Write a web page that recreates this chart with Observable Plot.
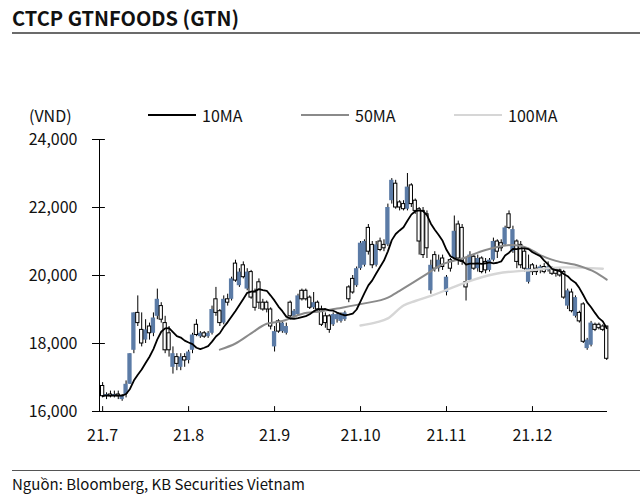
<!DOCTYPE html>
<html><head><meta charset="utf-8">
<script src="https://cdn.jsdelivr.net/npm/d3@7"></script>
<script src="https://cdn.jsdelivr.net/npm/@observablehq/plot@0.6"></script>
<style>
body{margin:0;background:#fff;}
#wrap{position:relative;width:640px;height:500px;overflow:hidden;background:#fff;font-family:"Noto Sans CJK KR","Noto Sans",sans-serif;color:#111;}
#title{position:absolute;left:12px;top:4px;font-size:20px;font-weight:700;line-height:28px;white-space:nowrap;}
#rule1{position:absolute;left:12px;right:0;top:32px;height:2px;background:#6b6b6b;}
#unit{position:absolute;left:29px;top:104px;font-size:16px;line-height:22px;z-index:2;}
#legend{position:absolute;left:148px;top:104px;display:flex;z-index:2;}
.item{width:153px;display:flex;align-items:center;font-size:16px;line-height:22px;}
.swatch{width:48px;height:2px;margin-right:6px;}
#chart{position:absolute;left:0;top:95px;z-index:1;}
#rule2{position:absolute;left:12px;right:0;top:470px;height:1px;background:#555;}
#source{position:absolute;left:12px;top:473px;font-size:15px;line-height:22px;white-space:nowrap;}
</style></head><body>
<div id="wrap">
  <div id="title">CTCP GTNFOODS (GTN)</div>
  <div id="rule1"></div>
  <div id="unit">(VND)</div>
  <div id="legend"></div>
  <div id="chart"></div>
  <div id="rule2"></div>
  <div id="source">Nguồn: Bloomberg, KB Securities Vietnam</div>
</div>
<script>
// ---- data ----
const monthLabels = ["21.7", "21.8", "21.9", "21.10", "21.11", "21.12"];
const monthStarts = [0, 22, 44, 66, 88, 110];
const yTicks = [16000, 18000, 20000, 22000, 24000];

const openP = [
  16750,16450,16500,16450,16500,16350,16500,16800,17800,18900,
  18400,18100,18500,18300,18800,19100,18600,18300,17300,17600,
  17300,17600,17500,17800,18550,18200,18300,18200,18300,19300,
  18950,18600,19300,19300,20350,19700,20300,19600,20100,19500,
  19800,19200,19200,19000,17900,18650,18350,18300,19200,18800,
  18850,19550,19550,19350,19050,19200,19000,18800,18800,18550,
  18700,18650,18700,19650,19900,19700,20200,20300,21400,20900,
  20300,21000,20900,20900,22200,22700,22150,22100,21950,22650,
  22200,21950,21900,21800,19550,20600,20200,20500,19500,20450,
  20500,21500,21400,19800,19850,20550,20200,20500,20400,20150,
  20450,21000,20950,20900,21800,20700,21000,20900,20700,19800,
  20300,20200,20150,20250,20150,20200,20150,20150,20100,19100,
  19500,18800,18900,19150,17850,17950,18550,18550,18500,18500
];
const highP = [
  16850,16550,16600,16600,16600,16500,16900,17700,18900,19400,
  18900,18700,18600,18900,19600,19200,18800,18500,17900,17700,
  17700,17700,17800,18300,18700,18350,18350,18350,19100,19650,
  19000,19400,19450,19950,20450,20200,20400,20200,20150,19600,
  19900,19300,19250,19050,18500,18700,18650,18600,19250,19000,
  19450,19600,19600,19400,19500,19250,19100,18900,18850,18900,
  18900,18900,18950,19700,20000,20250,21000,21050,21500,21000,
  21000,21100,21050,22100,22850,22800,22200,22200,23000,22700,
  22250,22000,22000,21900,20450,20700,20600,20600,20000,20500,
  21750,21600,21500,20500,20700,20600,20600,20550,20500,20500,
  21100,21050,21050,21450,21900,21450,21050,21000,20800,20600,
  20350,20300,20300,20350,20400,20250,20200,20200,20150,19600,
  19600,19400,18950,19200,18150,18650,18600,18600,18550,18500
];
const lowP = [
  16400,16350,16400,16400,16350,16300,16400,16800,17700,18500,
  17900,18000,18100,18200,18700,18600,17700,17600,17100,17200,
  17200,17300,17400,17700,18200,18150,18150,18150,18250,18800,
  18500,18550,19100,19250,19800,19650,19900,19550,19300,18950,
  19000,18950,18900,18400,17750,18300,18300,18250,18700,18750,
  18800,19250,19250,19000,19000,18950,18500,18450,18300,18500,
  18600,18600,18650,19200,19450,19650,20150,20250,20600,20200,
  20250,20700,20700,20850,22100,21950,21900,21900,21900,22000,
  21800,20600,20500,20500,19450,20100,20100,20150,19400,20100,
  20450,20300,20300,19250,19800,20150,20100,20050,20050,20100,
  20400,20500,20700,20850,21350,20650,20200,20200,20100,19750,
  20000,20000,20050,20050,20100,20000,19950,19950,19300,19000,
  18900,18750,18600,18000,17800,17900,18350,18400,18350,17500
];
const closeP = [
  16450,16500,16450,16500,16450,16450,16800,17700,18900,18600,
  18000,18400,18300,18750,19300,18700,17800,17800,17700,17400,
  17600,17500,17750,18250,18250,18300,18200,18300,19000,18900,
  18600,19300,19200,19900,19850,20100,19950,20100,19350,19050,
  19200,19000,19000,18500,18350,18350,18600,18500,18800,18950,
  19400,19300,19300,19050,19200,19000,18550,18600,18400,18850,
  18850,18850,18900,19300,19500,20200,20950,21000,20700,20300,
  20900,20750,20800,22000,22800,22000,22000,21950,22600,22100,
  21900,21000,20600,20800,20300,20200,20450,20250,19950,20200,
  21300,20500,20400,19650,20600,20200,20500,20100,20150,20450,
  21000,20700,20800,21400,21400,21350,20400,20300,20200,20200,
  20100,20100,20250,20100,20250,20050,20050,20000,19350,19550,
  18950,19350,18650,18050,18100,18600,18400,18450,18400,17550
];

const ma50Idx = [30, 34, 38, 42, 46, 51, 56, 60, 67, 73, 76, 79, 83, 87, 92, 98, 105, 109, 112, 116, 122, 126, 129];
const ma50Val = [17820, 18000, 18300, 18580, 18660, 18870, 18950, 19030, 19180, 19350, 19550, 19760, 20050, 20330, 20500, 20750, 20900, 20800, 20600, 20430, 20280, 20100, 19880];
const ma100Idx = [66, 70, 73, 77, 80, 84, 89, 93, 101, 109, 118, 128];
const ma100Val = [18530, 18620, 18740, 19120, 19250, 19400, 19620, 19800, 20060, 20150, 20240, 20200];

const seriesNames = ["10MA", "50MA", "100MA"];
const seriesColors = ["#000000", "#8a8a8a", "#d6d6d6"];
const upColor = "#5b7ba6";

// ---- build ----
const candles = closeP.map((c, i) => ({i, open: openP[i], high: highP[i], low: lowP[i], close: c}));
const ups = candles.filter(d => d.close > d.open);
const downs = candles.filter(d => d.close <= d.open);
const ma50 = ma50Idx.map((i, k) => ({i, v: ma50Val[k]}));
const ma100 = ma100Idx.map((i, k) => ({i, v: ma100Val[k]}));
const xDomain = [-0.8, 129.2];
const yDomain = [yTicks[0], yTicks[yTicks.length - 1]];
const tickShape = {draw(context, l) { context.moveTo(0, 0); context.lineTo(0, -l); }};

const legend = document.getElementById("legend");
seriesNames.forEach((n, k) => {
  const it = document.createElement("div"); it.className = "item";
  const sw = document.createElement("div"); sw.className = "swatch"; sw.style.background = seriesColors[k];
  const tx = document.createElement("span"); tx.textContent = n;
  it.appendChild(sw); it.appendChild(tx); legend.appendChild(it);
});

const chart = Plot.plot({
  width: 640, height: 350,
  marginTop: 44, marginBottom: 34, marginLeft: 99, marginRight: 33,
  style: {fontFamily: '"Noto Sans CJK KR","Noto Sans",sans-serif', fontSize: "16px", color: "#111", background: "transparent"},
  x: {domain: xDomain},
  y: {domain: yDomain},
  marks: [
    Plot.ruleX(candles, {x: "i", y1: "low", y2: "high", stroke: "#000", strokeWidth: 1}),
    Plot.rect(ups, {x1: d => d.i - 0.55, x2: d => d.i + 0.55, y1: "open", y2: "close", fill: upColor}),
    Plot.rect(downs, {x1: d => d.i - 0.42, x2: d => d.i + 0.42, y1: "open", y2: "close", fill: "#fff", stroke: "#000", strokeWidth: 1}),
    Plot.lineY(ma100, {x: "i", y: "v", stroke: seriesColors[2], strokeWidth: 2.4, curve: "monotone-x"}),
    Plot.lineY(ma50, {x: "i", y: "v", stroke: seriesColors[1], strokeWidth: 2, curve: "monotone-x"}),
    Plot.lineY(candles, Plot.windowY({k: 10, anchor: "end", strict: false}, {x: "i", y: "close", stroke: seriesColors[0], strokeWidth: 1.8})),
    Plot.ruleX([xDomain[0]], {stroke: "#000"}),
    Plot.ruleY([yDomain[0]], {stroke: "#000"}),
    Plot.axisY({ticks: yTicks, tickFormat: d3.format(","), tickSize: 7, tickPadding: 15, stroke: "#000", label: null}),
    Plot.vector(yTicks, {x: xDomain[0], y: d => d, rotate: 90, length: 5, anchor: "start", shape: tickShape, stroke: "#000", strokeWidth: 1}),
    Plot.axisX({ticks: monthStarts, tickFormat: i => monthLabels[monthStarts.indexOf(i)], tickSize: 0, tickPadding: 18, label: null}),
    Plot.vector(monthStarts, {x: d => d, y: yDomain[0], length: 5, anchor: "start", shape: tickShape, stroke: "#000", strokeWidth: 1})
  ]
});
document.getElementById("chart").appendChild(chart);
</script>
</body></html>
